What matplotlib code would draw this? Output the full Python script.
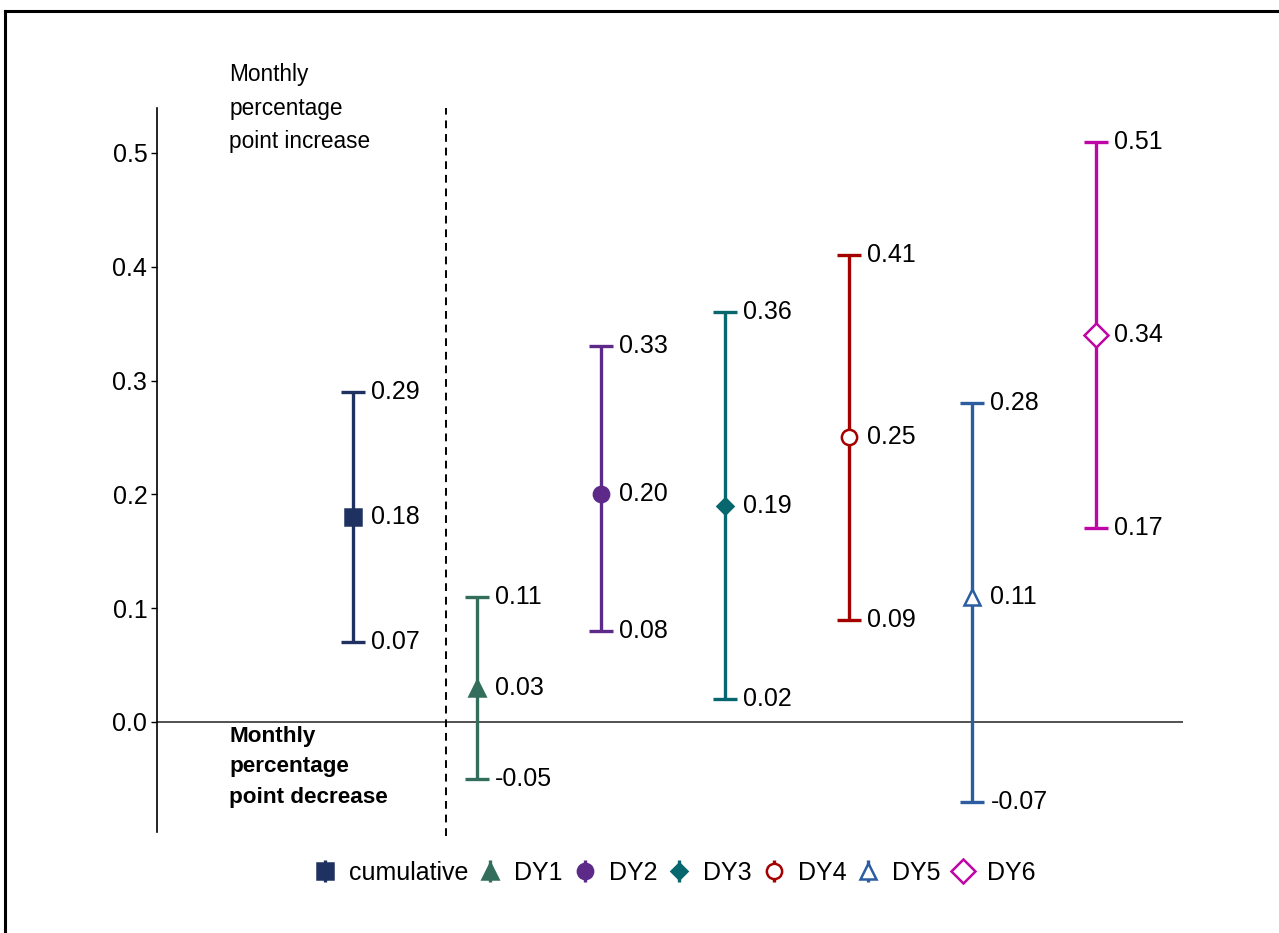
import matplotlib
matplotlib.use("Agg")
import matplotlib.pyplot as plt
from matplotlib.lines import Line2D

plt.rcParams['font.family'] = ['Liberation Sans', 'DejaVu Sans']

# Estimates with 95% confidence bounds (monthly percentage points)
groups = ["cumulative", "DY1", "DY2", "DY3", "DY4", "DY5", "DY6"]
estimates = [0.18, 0.03, 0.20, 0.19, 0.25, 0.11, 0.34]
lower = [0.07, -0.05, 0.08, 0.02, 0.09, -0.07, 0.17]
upper = [0.29, 0.11, 0.33, 0.36, 0.41, 0.28, 0.51]

colors = ["#1F3160", "#336E5C", "#5E2A89", "#07676F", "#A50000", "#2B5DA0", "#BF05A5"]
markers = ["s", "^", "o", "D", "o", "^", "D"]
filled = [True, True, True, True, False, False, False]
msizes = [11, 12, 11, 8, 11, 12, 12]

W, H = 1279, 933
fig = plt.figure(figsize=(W / 100, H / 100), dpi=100)
ax = fig.add_axes([157 / W, 1 - 832 / H, (1183 - 157) / W, (832 - 108) / H])

xs = list(range(1, len(groups) + 1))
for x, est, lo, hi, c, m, f, ms in zip(xs, estimates, lower, upper, colors, markers, filled, msizes):
    ax.errorbar([x], [est], yerr=[[est - lo], [hi - est]], fmt="none",
                ecolor=c, elinewidth=2.4, capsize=8.5, capthick=2.4, zorder=3)
    ax.plot([x], [est], marker=m, linestyle="none", markersize=ms,
            markerfacecolor=c if f else "white", markeredgecolor=c,
            markeredgewidth=1.8, zorder=4)
    for v in (lo, est, hi):
        ax.annotate(f"{v:.2f}", xy=(x, v), xytext=(13, 0), textcoords="offset points",
                    ha="left", va="center", fontsize=18, color="black")

ax.set_xlim(-0.583, 7.70)
ax.set_ylim(-0.0967, 0.5395)

ax.axhline(0, color="#333333", linewidth=1.2, zorder=1)
ax.axvline(1.75, color="black", linewidth=1.4, linestyle=(0, (4, 3)), zorder=1,
           ymin=-0.005, ymax=1.0, clip_on=False)

ax.text(0.0, 0.5395, "Monthly\npercentage\npoint increase", ha="left", va="center",
        fontsize=16.3, linespacing=1.58, clip_on=False)
ax.text(0.0, -0.0395, "Monthly\npercentage\npoint decrease", ha="left", va="center",
        fontsize=16.2, fontweight="bold", linespacing=1.6)

for side in ("top", "right", "bottom"):
    ax.spines[side].set_visible(False)
ax.spines["left"].set_linewidth(1.2)
ax.set_xticks([])
ax.set_yticks([0.0, 0.1, 0.2, 0.3, 0.4, 0.5])
ax.set_yticklabels(["0.0", "0.1", "0.2", "0.3", "0.4", "0.5"])
ax.tick_params(axis="y", labelsize=18, length=4, width=1.0, pad=3)

# Legend: marker with a short vertical bar through it
handles = []
for c, m, f, ms in zip(colors, markers, filled, msizes):
    bar = Line2D([], [], marker="|", markersize=16, markeredgewidth=2.4,
                 color=c, linestyle="none")
    mk = Line2D([], [], marker=m, markersize=ms, linestyle="none",
                markerfacecolor=c if f else "white", markeredgecolor=c,
                markeredgewidth=1.8)
    handles.append((bar, mk))
fig.legend(handles, groups, loc="center", bbox_to_anchor=(675 / W, 1 - 873 / H),
           ncol=len(groups), frameon=False, fontsize=18, handlelength=0.8,
           handletextpad=0.56, columnspacing=0.48, borderpad=0)

# Outer frame (top and left edges)
fig.add_artist(Line2D([5 / W, 1.0], [1 - 10.5 / H, 1 - 10.5 / H], color="black",
                      linewidth=2.2, transform=fig.transFigure))
fig.add_artist(Line2D([5 / W, 5 / W], [1 - 10.5 / H, 0.0], color="black",
                      linewidth=2.2, transform=fig.transFigure))

fig.savefig("out.png", dpi=100, facecolor="white")
